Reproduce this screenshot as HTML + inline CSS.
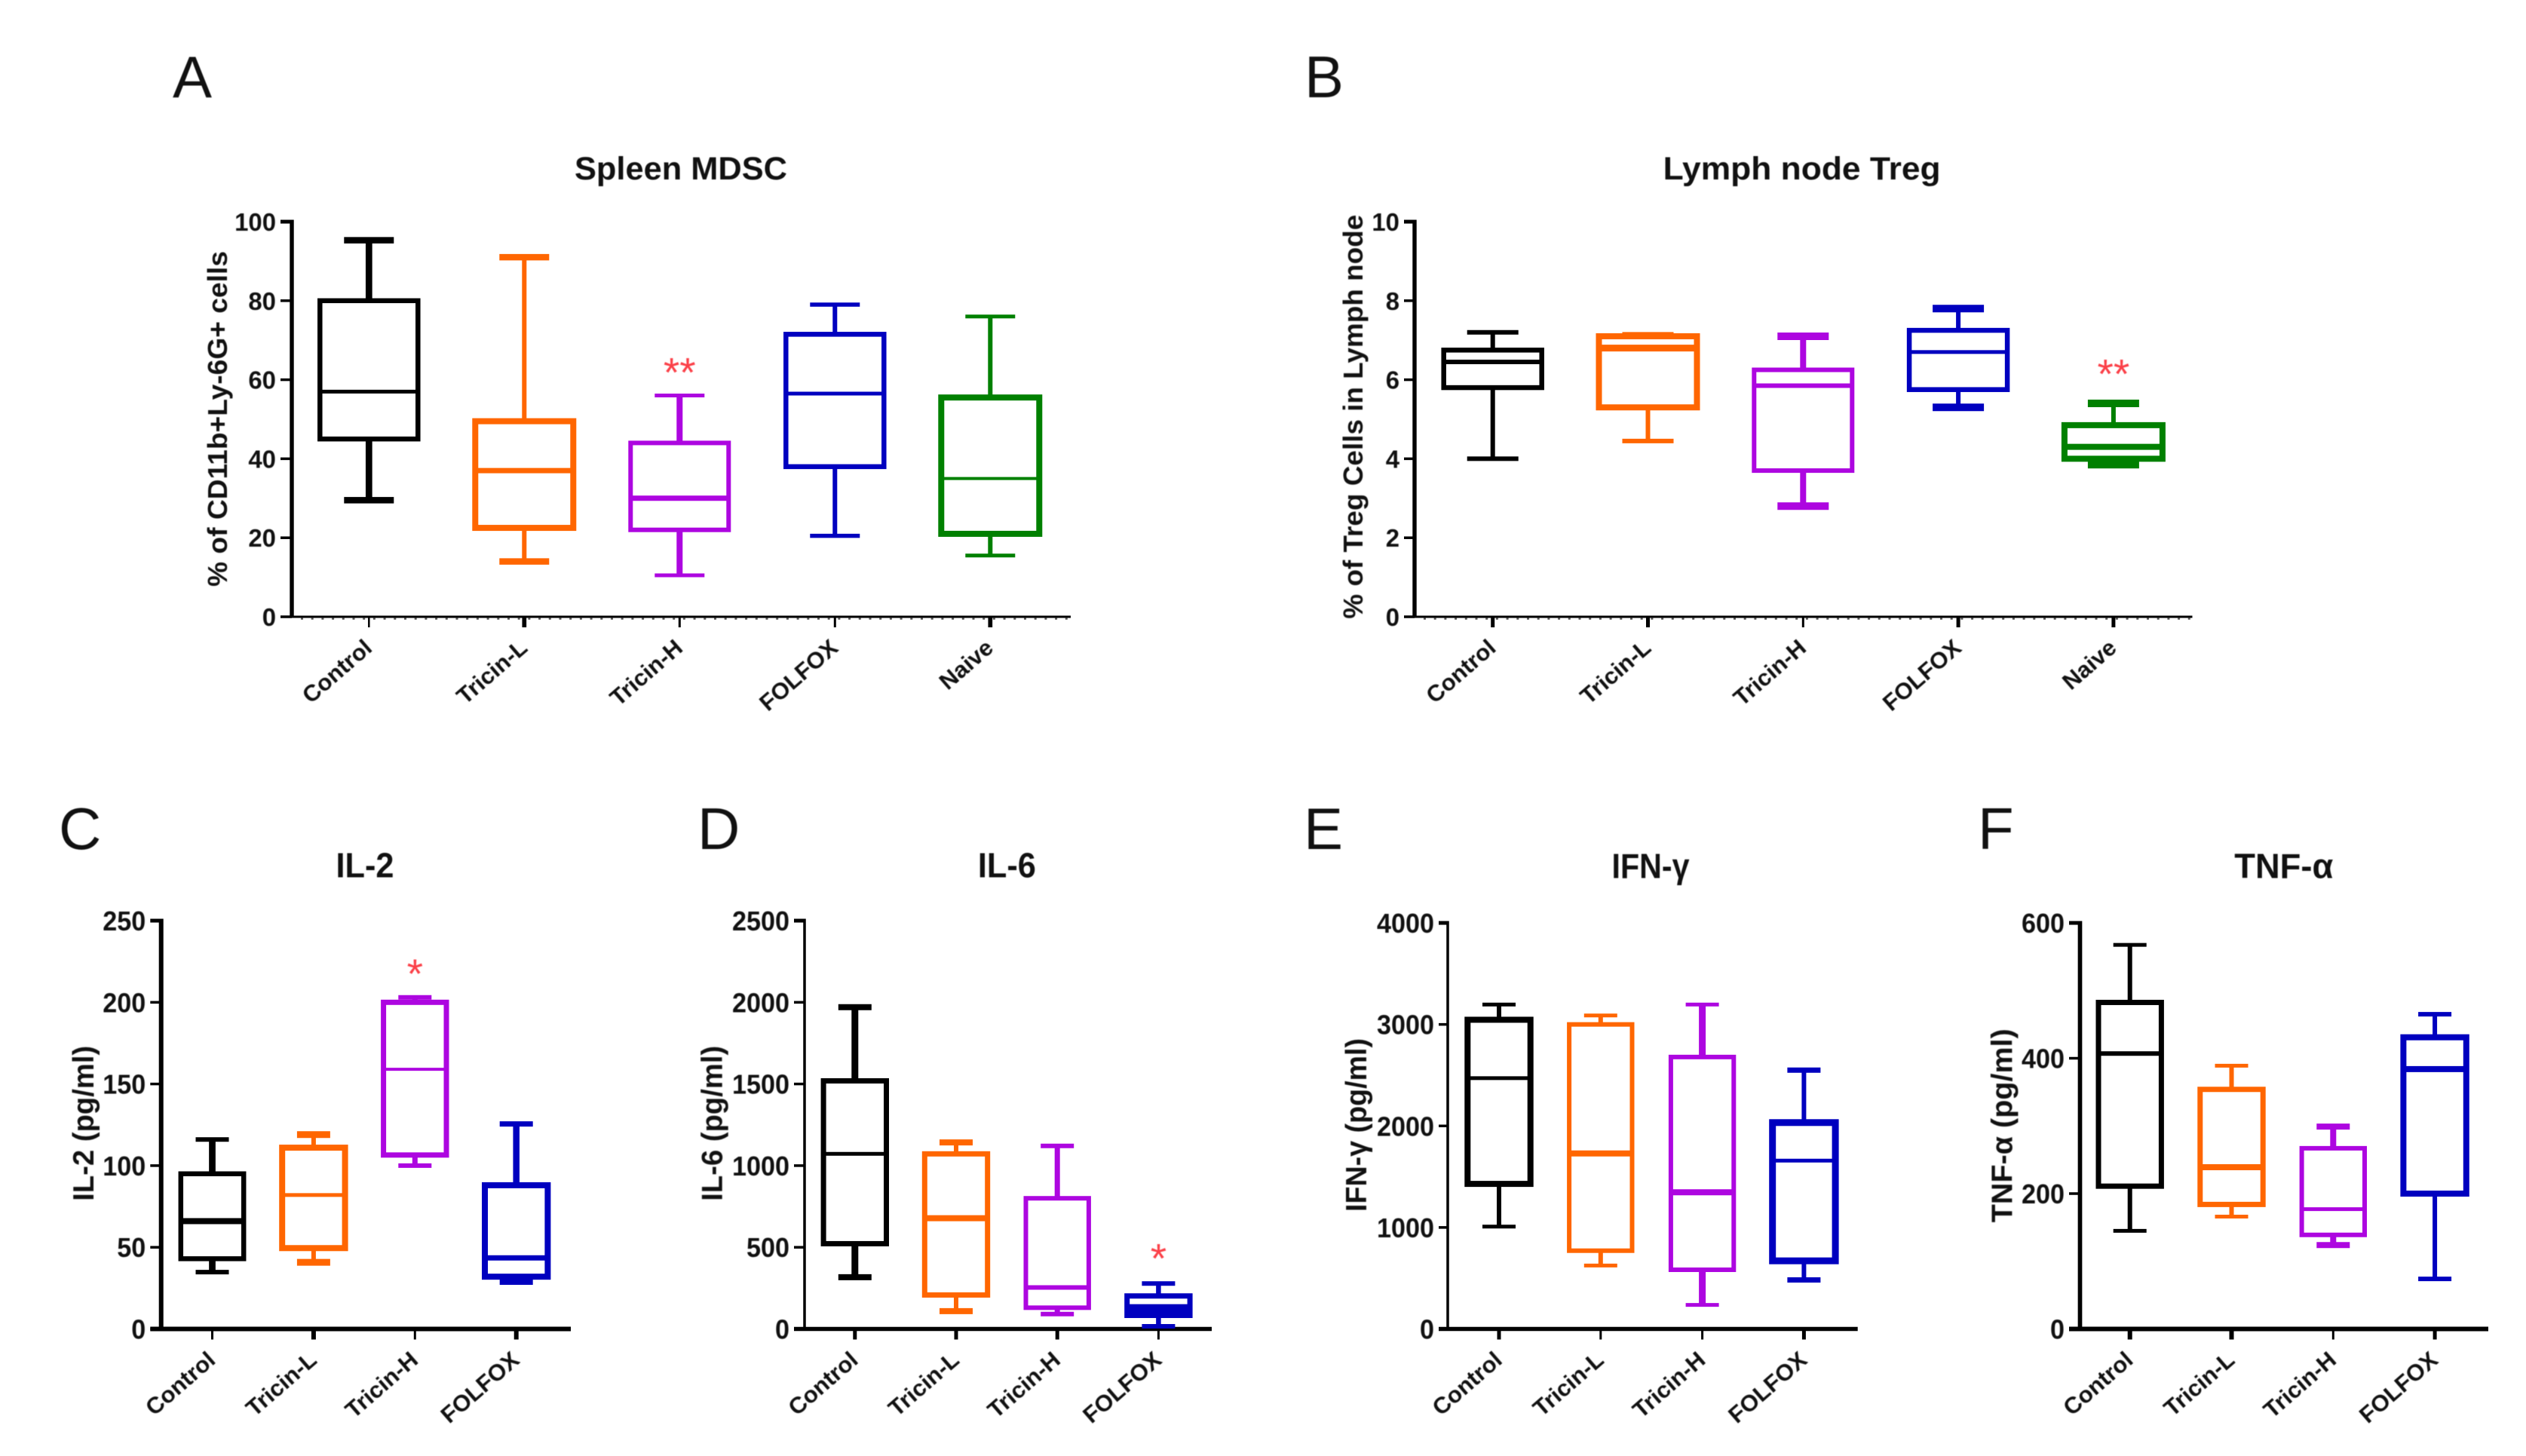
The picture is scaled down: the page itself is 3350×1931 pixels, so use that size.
<!DOCTYPE html>
<html lang="en">
<head>
<meta charset="utf-8">
<title>Immune cell and cytokine box plots</title>
<style>
html,body{margin:0;padding:0;background:#fff;}
svg{display:block;}
text{font-family:"Liberation Sans",sans-serif;filter:blur(0.5px);}
.letter{font-size:78px;font-weight:400;fill:#111;}
.title{font-size:43px;font-weight:700;fill:#111;text-anchor:middle;}
.title-small{font-size:46px;}
.ytitle{font-size:36px;font-weight:700;fill:#111;text-anchor:middle;}
.ytitle-small{font-size:39px;}
.tick{font-size:33px;font-weight:700;fill:#111;text-anchor:end;}
.tick-tall{font-size:36px;}
.cat{font-size:31px;font-weight:700;fill:#111;text-anchor:end;}
.star{font-size:55px;font-weight:400;fill:#fb4048;text-anchor:middle;}
</style>
</head>
<body>
<svg id="figure" xmlns="http://www.w3.org/2000/svg" width="3350" height="1931" viewBox="0 0 3350 1931">
<rect x="0" y="0" width="3350" height="1931" fill="#ffffff"/>
<g id="panel-a">
<text class="letter" x="229" y="129">A</text>
<text class="title" x="903" y="238" textLength="282" lengthAdjust="spacingAndGlyphs">Spleen MDSC</text>
<text class="ytitle" transform="translate(301 555.5) rotate(-90)" textLength="445" lengthAdjust="spacingAndGlyphs">% of CD11b+Ly-6G+ cells</text>
</g>
<g id="panel-b">
<text class="letter" x="1730" y="129">B</text>
<text class="title" x="2389.6" y="238" textLength="368" lengthAdjust="spacingAndGlyphs">Lymph node Treg</text>
<text class="ytitle" transform="translate(1807 552.7) rotate(-90)" textLength="536" lengthAdjust="spacingAndGlyphs">% of Treg Cells in Lymph node</text>
</g>
<g id="panel-c">
<text class="letter" x="78" y="1126">C</text>
<text class="title title-small" x="484" y="1163.5" textLength="77" lengthAdjust="spacingAndGlyphs">IL-2</text>
<text class="ytitle ytitle-small" transform="translate(124 1489.8) rotate(-90)" textLength="206" lengthAdjust="spacingAndGlyphs">IL-2 (pg/ml)</text>
</g>
<g id="panel-d">
<text class="letter" x="925" y="1126">D</text>
<text class="title title-small" x="1335.4" y="1163.5" textLength="77" lengthAdjust="spacingAndGlyphs">IL-6</text>
<text class="ytitle ytitle-small" transform="translate(957.7 1489.8) rotate(-90)" textLength="206" lengthAdjust="spacingAndGlyphs">IL-6 (pg/ml)</text>
</g>
<g id="panel-e">
<text class="letter" x="1729" y="1126">E</text>
<text class="title title-small" x="2189" y="1164.5" textLength="103" lengthAdjust="spacingAndGlyphs">IFN-γ</text>
<text class="ytitle ytitle-small" transform="translate(1812 1492) rotate(-90)" textLength="230" lengthAdjust="spacingAndGlyphs">IFN-γ (pg/ml)</text>
</g>
<g id="panel-f">
<text class="letter" x="2623" y="1126">F</text>
<text class="title title-small" x="3028.8" y="1164.5" textLength="131" lengthAdjust="spacingAndGlyphs">TNF-α</text>
<text class="ytitle ytitle-small" transform="translate(2668.4 1492.8) rotate(-90)" textLength="257" lengthAdjust="spacingAndGlyphs">TNF-α (pg/ml)</text>
</g>
</svg>
<script>
// Categories
const fiveGroups = ['Control', 'Tricin-L', 'Tricin-H', 'FOLFOX', 'Naive'];
const fourGroups = ['Control', 'Tricin-L', 'Tricin-H', 'FOLFOX'];

// Panel A: Spleen MDSC
const aTicks = [0, 20, 40, 60, 80, 100];
const aHigh = [95.3, 91, 56, 79, 76];
const aQ3 = [80, 49.5, 44, 71.5, 55.5];
const aMedian = [57, 37, 30, 56.5, 35];
const aQ1 = [45, 22.5, 22, 38, 21];
const aLow = [29.5, 14, 10.5, 20.5, 15.5];
const aStars = ['', '', '**', '', ''];

// Panel B: Lymph node Treg
const bTicks = [0, 2, 4, 6, 8, 10];
const bHigh = [7.2, 7.15, 7.1, 7.8, 5.4];
const bQ3 = [6.75, 7.1, 6.25, 7.25, 4.85];
const bMedian = [6.45, 6.8, 5.85, 6.7, 4.3];
const bQ1 = [5.8, 5.3, 3.7, 5.75, 4.0];
const bLow = [4.0, 4.45, 2.8, 5.3, 3.85];
const bStars = ['', '', '', '', '**'];

// Panel C: IL-2
const cTicks = [0, 50, 100, 150, 200, 250];
const cHigh = [116, 119, 203, 125.5];
const cQ3 = [95, 111, 200, 88];
const cMedian = [66, 82, 159, 43.5];
const cQ1 = [43, 49.5, 106.5, 32];
const cLow = [34.8, 40.8, 100, 28.6];
const cStars = ['', '', '*', ''];

// Panel D: IL-6
const dTicks = [0, 500, 1000, 1500, 2000, 2500];
const dHigh = [1970, 1142, 1121, 278];
const dQ3 = [1519, 1072, 800, 202];
const dMedian = [1072, 678, 254, 117];
const dQ1 = [522, 208, 130, 83];
const dLow = [317, 109, 91, 16];
const dStars = ['', '', '', '*'];

// Panel E: IFN-gamma
const eTicks = [0, 1000, 2000, 3000, 4000];
const eHigh = [3196, 3088, 3196, 2550];
const eQ3 = [3046, 3000, 2679, 2033];
const eMedian = [2471, 1729, 1346, 1658];
const eQ1 = [1429, 771, 583, 671];
const eLow = [1008, 625, 237, 483];
const eStars = ['', '', '', ''];

// Panel F: TNF-alpha
const fTicks = [0, 200, 400, 600];
const fHigh = [567.5, 389, 299, 465];
const fQ3 = [482.5, 354, 267, 431];
const fMedian = [407, 239, 177, 384];
const fQ1 = [211, 184, 139, 200];
const fLow = [145, 166, 124, 74];
const fStars = ['', '', '', ''];

const seriesColors = ['#000000', '#ff6600', '#ad06e0', '#0000bf', '#008000'];

// Layout and stroke styling for each panel
const panels = [
  {id: 'a', cats: fiveGroups, ticks: aTicks, high: aHigh, q3: aQ3, med: aMedian, q1: aQ1, low: aLow, stars: aStars,
   axisX: 387, tickStart: 372, axisEnd: 1420, top: 294, base: 818, first: 489.3, step: 206, boxHalf: 65, capHalf: 33, starGap: 39,
   yAxisW: 5.4, xAxisW: 3, dotted: true, tallTicks: false,
   boxW: [6.5, 8, 6, 6.5, 8], medW: [5, 7, 7, 5, 4], whiskW: [8.7, 6, 8, 6, 6], capW: [8.5, 8.5, 5, 5.5, 5], xTickW: [2.5, 5.7, 3, 3, 5.7]},
  {id: 'b', cats: fiveGroups, ticks: bTicks, high: bHigh, q3: bQ3, med: bMedian, q1: bQ1, low: bLow, stars: bStars,
   axisX: 1876, tickStart: 1862, axisEnd: 2907.5, top: 294, base: 818, first: 1979.7, step: 205.8, boxHalf: 65, capHalf: 34, starGap: 47.5,
   yAxisW: 5.4, xAxisW: 3, dotted: true, tallTicks: false,
   boxW: [6.5, 8, 6, 6.5, 8], medW: [6, 9, 6, 5, 8], whiskW: [6, 6, 8, 6, 6], capW: [6, 6, 10, 10, 10], xTickW: [5, 5, 3, 5, 5]},
  {id: 'c', cats: fourGroups, ticks: cTicks, high: cHigh, q3: cQ3, med: cMedian, q1: cQ1, low: cLow, stars: cStars,
   axisX: 213.7, tickStart: 199.3, axisEnd: 757, top: 1221, base: 1762.5, first: 281.5, step: 134.4, boxHalf: 41.7, capHalf: 22, starGap: 40,
   yAxisW: 6, xAxisW: 6, dotted: false, tallTicks: true,
   boxW: [6.5, 8, 7, 8], medW: [8, 5, 4, 7], whiskW: [8.7, 6, 7, 8.5], capW: [6, 9, 6, 7], xTickW: [3, 6, 3, 6]},
  {id: 'd', cats: fourGroups, ticks: dTicks, high: dHigh, q3: dQ3, med: dMedian, q1: dQ1, low: dLow, stars: dStars,
   axisX: 1067, tickStart: 1053, axisEnd: 1607, top: 1221, base: 1762.5, first: 1133.8, step: 134.2, boxHalf: 41.7, capHalf: 22, starGap: 41.7,
   yAxisW: 3.5, xAxisW: 5.5, dotted: false, tallTicks: true,
   boxW: [7, 7, 6, 7], medW: [5, 8, 6, 15], whiskW: [9, 6, 7, 6.5], capW: [8, 8, 6, 6], xTickW: [5, 5, 5, 3]},
  {id: 'e', cats: fourGroups, ticks: eTicks, high: eHigh, q3: eQ3, med: eMedian, q1: eQ1, low: eLow, stars: eStars,
   axisX: 1920, tickStart: 1908, axisEnd: 2463.7, top: 1224, base: 1762.5, first: 1988, step: 134.8, boxHalf: 41.7, capHalf: 22, starGap: 42,
   yAxisW: 3.5, xAxisW: 5.5, dotted: false, tallTicks: true,
   boxW: [8, 6, 6, 9], medW: [5, 8, 8, 5], whiskW: [6, 6, 9, 6], capW: [5, 5, 5, 7], xTickW: [5, 3, 3, 5]},
  {id: 'f', cats: fourGroups, ticks: fTicks, high: fHigh, q3: fQ3, med: fMedian, q1: fQ1, low: fLow, stars: fStars,
   axisX: 2758.5, tickStart: 2744, axisEnd: 3300, top: 1224, base: 1762.5, first: 2824.7, step: 134.8, boxHalf: 41.7, capHalf: 22, starGap: 42,
   yAxisW: 5.7, xAxisW: 6, dotted: false, tallTicks: true,
   boxW: [7, 7, 6, 8], medW: [6, 8, 5, 8], whiskW: [6, 6, 8, 6], capW: [5, 5, 8, 6], xTickW: [6, 6, 3, 5]}
];

const SVG_NS = 'http://www.w3.org/2000/svg';

function make(parent, tag, attrs, content) {
  const node = document.createElementNS(SVG_NS, tag);
  for (const key in attrs) node.setAttribute(key, attrs[key]);
  if (content !== undefined) node.textContent = content;
  parent.appendChild(node);
  return node;
}

function hLine(parent, x1, x2, y, color, width) {
  return make(parent, 'line', {x1: x1, x2: x2, y1: y, y2: y, stroke: color, 'stroke-width': width});
}

function vLine(parent, x, y1, y2, color, width) {
  return make(parent, 'line', {x1: x, x2: x, y1: y1, y2: y2, stroke: color, 'stroke-width': width});
}

function drawPanel(p) {
  const root = document.getElementById('panel-' + p.id);
  const maxTick = p.ticks[p.ticks.length - 1];
  const yScale = function (v) { return p.base - (v / maxTick) * (p.base - p.top); };
  const xScale = function (i) { return p.first + i * p.step; };

  // Y axis line and ticks
  const yAxis = vLine(root, p.axisX, p.top - 2.5, p.base, '#000', p.yAxisW);
  
  

  p.ticks.forEach(function (t, idx) {
    const tickW = idx === p.ticks.length - 1 ? 5 : 3.5;
    const mark = hLine(root, p.tickStart, p.axisX, yScale(t), '#000', tickW);
    
    
    const labelClass = p.tallTicks ? 'tick tick-tall' : 'tick';
    const labelY = yScale(t) + (p.tallTicks ? 13 : 12);
    const digitWidth = p.tallTicks ? 19 : 18.3;
    const label = make(root, 'text', {class: labelClass, x: p.tickStart - 6, y: labelY, textLength: String(t).length * digitWidth, lengthAdjust: 'spacingAndGlyphs'}, String(t));
    
    
  });

  // X axis line
  const xAxis = hLine(root, p.tickStart, p.axisEnd, p.base, '#000', p.xAxisW);
  
  

  if (p.dotted) {
    const dots = make(root, 'line', {x1: p.axisX + 12, x2: p.axisEnd, y1: p.base + 2.5, y2: p.base + 2.5, stroke: '#555', 'stroke-width': 2.5, 'stroke-dasharray': '3 10.7'});
    
    
  }

  // Category ticks, labels and box plots
  p.cats.forEach(function (cat, i) {
    const cx = xScale(i);
    const color = seriesColors[i];

    const xTick = vLine(root, cx, p.base, p.base + 14, '#000', p.xTickW[i]);
    
    

    const labelX = cx + 6;
    const labelY = p.base + 44;
    const catLabel = make(root, 'text', {class: 'cat', x: labelX, y: labelY, transform: 'rotate(-41 ' + labelX + ' ' + labelY + ')'}, cat);
    
    

    const group = make(root, 'g', {});
    
    

    const yHigh = yScale(p.high[i]);
    const yQ3 = yScale(p.q3[i]);
    const yMed = yScale(p.med[i]);
    const yQ1 = yScale(p.q1[i]);
    const yLow = yScale(p.low[i]);

    const upper = vLine(group, cx, yHigh, yQ3, color, p.whiskW[i]);
    
    

    const lower = vLine(group, cx, yQ1, yLow, color, p.whiskW[i]);
    
    

    const capTop = hLine(group, cx - p.capHalf, cx + p.capHalf, yHigh, color, p.capW[i]);
    
    

    const capBottom = hLine(group, cx - p.capHalf, cx + p.capHalf, yLow, color, p.capW[i]);
    
    

    const box = make(group, 'rect', {x: cx - p.boxHalf, y: yQ3, width: p.boxHalf * 2, height: yQ1 - yQ3, fill: 'none', stroke: color, 'stroke-width': p.boxW[i]});
    
    

    const median = hLine(group, cx - p.boxHalf, cx + p.boxHalf, yMed, color, p.medW[i]);
    
    

    if (p.stars[i]) {
      const starY = yHigh - p.starGap + 27;
      const star = make(root, 'text', {class: 'star', x: cx, y: starY}, p.stars[i]);
      
      
    }
  });
}

panels.forEach(drawPanel);
</script>
</body>
</html>
